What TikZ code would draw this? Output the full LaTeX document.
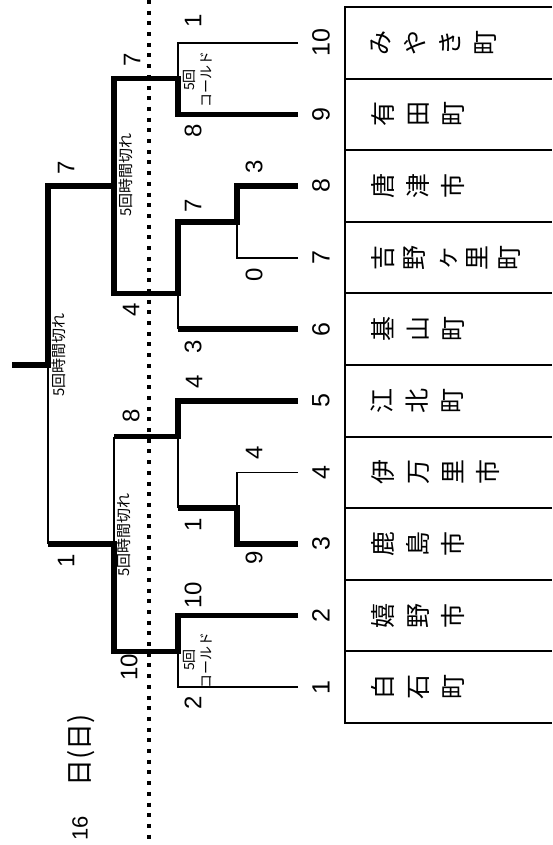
\documentclass[tikz,border=0pt]{standalone}
\usepackage{fontspec}
\setmainfont{Liberation Sans}
\newfontfamily\cjk{Noto Sans CJK JP}
\begin{document}
\begin{tikzpicture}[x=1pt,y=-1pt,
  thk/.style={line width=5.5pt, line join=miter},
  thn/.style={line width=1.8pt},
  boxline/.style={line width=2pt},
  dotline/.style={line width=3.6pt, dash pattern=on 4pt off 6.7pt},
  num/.style={rotate=90, inner sep=0pt, font=\fontsize{25}{25}\selectfont},
  sc/.style={rotate=90, inner sep=0pt, font=\fontsize{24}{24}\selectfont},
  team/.style={rotate=90, anchor=north, inner sep=0pt, align=center, font=\cjk\fontsize{25}{35}\selectfont},
  jk/.style={rotate=90, inner sep=0pt, font=\cjk\fontsize{15}{15}\selectfont},
  cold/.style={rotate=90, inner sep=0pt, align=center, font=\cjk\fontsize{14}{17}\selectfont}]
\useasboundingbox (0,0) rectangle (552,845);

% dotted separator
\coordinate (dtop) at (149,0);
\coordinate (dbot) at (149,845);
\draw[dotline] (dtop) -- (dbot);

% team table
\draw[boxline] (552,7) -- (345,7) -- (345,723) -- (552,723);
\foreach \k in {1,...,9} \draw[boxline] (345,7+71.6*\k) -- (552,7+71.6*\k);

% team names
\node[team] (t10) at (371,42.8) {み\\や\\き\\町};
\node[team] (t9) at (371,114.4) {有\\田\\町};
\node[team] (t8) at (371,186.0) {唐\\津\\市};
\node[team, font=\cjk\fontsize{25}{31.5}\selectfont] (t7) at (371,257.6) {吉\\野\\ヶ\\里\\町};
\node[team] (t6) at (371,329.2) {基\\山\\町};
\node[team] (t5) at (371,400.8) {江\\北\\町};
\node[team] (t4) at (371,472.4) {伊\\万\\里\\市};
\node[team] (t3) at (371,544.0) {鹿\\島\\市};
\node[team] (t2) at (371,615.6) {嬉\\野\\市};
\node[team] (t1) at (371,687.2) {白\\石\\町};

% team numbers
\node[num] (n10) at (321,42.8) {10};
\node[num] (n9) at (321,114.4) {9};
\node[num] (n8) at (321,186.0) {8};
\node[num] (n7) at (321,257.6) {7};
\node[num] (n6) at (321,329.2) {6};
\node[num] (n5) at (321,400.8) {5};
\node[num] (n4) at (321,472.4) {4};
\node[num] (n3) at (321,544.0) {3};
\node[num] (n2) at (321,615.6) {2};
\node[num] (n1) at (321,687.2) {1};

% bracket coordinates
\coordinate (L10) at (298,42.8);
\coordinate (L9) at (298,114.4);
\coordinate (L8) at (298,186.0);
\coordinate (L7) at (298,257.6);
\coordinate (L6) at (298,329.2);
\coordinate (L5) at (298,400.8);
\coordinate (L4) at (298,472.4);
\coordinate (L3) at (298,544.0);
\coordinate (L2) at (298,615.6);
\coordinate (L1) at (298,687.2);
\coordinate (a78) at (237,221.8);
\coordinate (a34) at (237,508.2);
\coordinate (b910) at (178,78.6);
\coordinate (b678) at (178,293.4);
\coordinate (b345) at (178,436.6);
\coordinate (b12) at (178,651.4);
\coordinate (s6) at (178,329.2);
\coordinate (u34) at (178,508.2);
\coordinate (cT) at (114,186);
\coordinate (cB) at (114,544);
\coordinate (t5c) at (114,436.6);
\coordinate (f) at (48,365);
\coordinate (v) at (48,544);
\coordinate (champ) at (12,365);

% thin lines
\draw[thn] (L10) -| (b910);
\draw[thn] (L7) -| (a78);
\draw[thn] (s6) -- (b678);
\draw[thn] (L4) -| (a34);
\draw[thn] (u34) -- (b345);
\draw[thn] (t5c) -- (cB);
\draw[thn] (v) -- (f);
\draw[thn] (L1) -| (b12);

% thick lines
\draw[thk] (L9) -| (b910) -| (cT) -| (f) -- (champ);
\draw[thk] (L8) -| (a78) -| (b678) -| (cT);
\draw[thk] (L6) -- (s6);
\draw[thk] (L5) -| (b345) -- (t5c);
\draw[thk] (L3) -| (a34) -- (u34);
\draw[thk] (L2) -| (b12) -| (cB) -- (v);

% scores
\node[sc] (sf1) at (66,168) {7};
\node[sc] (sf2) at (66,561) {1};
\node[sc] (sr1) at (132,60) {7};
\node[sc] (sr2) at (131,310) {4};
\node[sc] (sr3) at (131,416) {8};
\node[sc] (sr4) at (129,667) {10};
\node[sc] (sq1) at (193,21) {1};
\node[sc] (sq2) at (193,131) {8};
\node[sc] (sq3) at (193,206) {7};
\node[sc] (sq4) at (193,347) {3};
\node[sc] (sq5) at (194,382) {4};
\node[sc] (sq6) at (193,525) {1};
\node[sc] (sq7) at (193,595) {10};
\node[sc] (sq8) at (193,703) {2};
\node[sc] (sp1) at (254,167) {3};
\node[sc] (sp2) at (254,275) {0};
\node[sc] (sp3) at (254,453) {4};
\node[sc] (sp4) at (254,558) {9};

% notes
\node[jk] (j1) at (126,175) {5回時間切れ};
\node[jk] (j2) at (124,535) {5回時間切れ};
\node[jk] (j3) at (59,355) {5回時間切れ};
\node[cold] (c1) at (198,80) {5回\\コールド};
\node[cold] (c2) at (198,660) {5回\\コールド};

% date
\node[rotate=90, inner sep=0pt, font=\fontsize{22}{22}\selectfont] (d16) at (80,828) {16};
\node[rotate=90, inner sep=0pt, font=\cjk\fontsize{27}{27}\selectfont] (dday) at (81,750) {日(日)};
\end{tikzpicture}
\end{document}
